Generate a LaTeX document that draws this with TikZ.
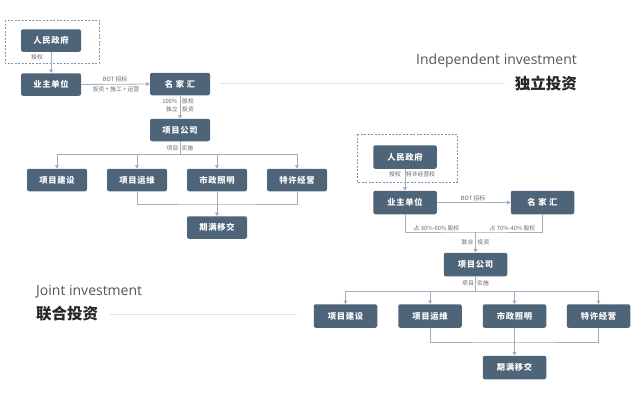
\documentclass[tikz,border=0pt]{standalone}
\usepackage{fontspec}
\setmainfont{Open Sans}
\newfontfamily\cjk{Noto Sans CJK SC}
\newfontfamily\cjksp[LetterSpace=8]{Noto Sans CJK SC}
\newfontfamily\latin{Open Sans}
\usetikzlibrary{arrows.meta}
\definecolor{boxc}{HTML}{4E6479}
\definecolor{linec}{HTML}{A3ADBF}
\definecolor{dashc}{HTML}{8592A8}
\definecolor{labc}{HTML}{666666}
\definecolor{rulec}{HTML}{E2E2E2}
\definecolor{headc}{HTML}{555555}
\tikzset{
  box/.style={fill=boxc, rounded corners=2pt, minimum width=60pt, minimum height=22.5pt,
    inner sep=0pt, text=white, font=\cjksp\bfseries\fontsize{8.3}{9}\selectfont},
  boxb/.style={box, minimum width=63.5pt, minimum height=23.5pt},
  conn/.style={draw=linec, line width=0.8pt},
  arr/.style={conn, -{Triangle[width=4pt,length=3.5pt]}},
  lab/.style={text=labc, inner sep=0pt, font=\cjk\fontsize{5.8}{6.5}\selectfont},
  frame/.style={draw=dashc, dashed, dash pattern=on 2pt off 1.5pt, line width=0.8pt},
  rule/.style={draw=rulec, line width=0.8pt},
  headen/.style={text=headc, inner sep=0pt, font=\latin\fontsize{14}{16}\selectfont},
  headcn/.style={text=black!85, inner sep=0pt, font=\cjk\bfseries\fontsize{15.5}{17}\selectfont}
}
\begin{document}
\begin{tikzpicture}[x=1pt,y=-1pt]
\useasboundingbox (0,0) rectangle (634,407);
% ---------- headings ----------
\coordinate (r1a) at (220,83); \coordinate (r1b) at (505,83);
\draw[rule] (r1a) -- (r1b);
\node[headen, anchor=east] (h1) at (577,61) {Independent investment};
\node[headcn, anchor=east] (h2) at (577,84) {独立投资};
\coordinate (r2a) at (110,314); \coordinate (r2b) at (297,314);
\draw[rule] (r2a) -- (r2b);
\node[headen, anchor=west] (h3) at (36,292) {Joint investment};
\node[headcn, anchor=west] (h4) at (36,314) {联合投资};
% ---------- left diagram ----------
\draw[frame] (5,20) rectangle (99,63);
\node[box] (g1) at (51,40.5) {人民政府};
\node[box] (o1) at (51,84.5) {业主单位};
\node[box] (m1) at (180,84) {名\ 家\ 汇};
\node[box] (p1) at (180,130) {项目公司};
\node[box] (a1) at (57,180) {项目建设};
\node[box] (b1) at (137,180) {项目运维};
\node[box] (c1) at (217,180) {市政照明};
\node[box] (d1) at (297,180) {特许经营};
\node[box] (e1) at (217,227.5) {期满移交};
\draw[arr] (g1.south) -- (o1.north);
\node[lab] (l1) at (37,57) {授权};
\draw[arr] (o1.east) -- (m1.west);
\node[lab] (l2) at (115,79.5) {BOT 招标};
\node[lab] (l3) at (116,89.5) {投资 + 施工 + 运营};
\draw[arr] (m1.south) -- (p1.north);
\node[lab, anchor=east] (l4a) at (177.5,101) {100\%};
\node[lab, anchor=west] (l4b) at (182,101) {股权};
\node[lab, anchor=east] (l5a) at (178,109) {独立};
\node[lab, anchor=west] (l5b) at (182,109) {投资};
\coordinate (j1) at (180,154);
\draw[conn] (p1.south) -- (j1);
\node[lab, anchor=east] (l6a) at (178.5,148) {项目};
\node[lab, anchor=west] (l6b) at (181.5,148) {实施};
\draw[conn] (j1 -| a1) -- (j1 -| d1);
\foreach \n in {a1,b1,c1,d1} \draw[arr] (j1 -| \n) -- (\n.north);
\coordinate (k1) at (217,204);
\draw[conn] (b1.south) |- (k1) -| (d1.south);
\draw[arr] (c1.south) -- (e1.north);
% ---------- right diagram ----------
\draw[frame] (357,134) rectangle (457,182);
\node[boxb] (g2) at (405,157) {人民政府};
\node[boxb] (o2) at (405,202.5) {业主单位};
\node[boxb] (m2) at (542.5,202.5) {名\ 家\ 汇};
\node[boxb] (p2) at (475.5,264.5) {项目公司};
\node[boxb] (a2) at (345.5,316) {项目建设};
\node[boxb] (b2) at (430,316) {项目运维};
\node[boxb] (c2) at (514.5,316) {市政照明};
\node[boxb] (d2) at (598.5,316) {特许经营};
\node[boxb] (e2) at (514.5,367.5) {期满移交};
\draw[arr] (g2.south) -- (o2.north);
\node[lab, anchor=east] (q1a) at (401,174) {授权};
\node[lab, anchor=west] (q1b) at (406,174) {特许经营权};
\draw[arr] (o2.east) -- (m2.west);
\node[lab] (q2) at (473,198) {BOT 招标};
\coordinate (k2) at (475.5,232);
\draw[conn] (o2.south) |- (k2) -| (m2.south);
\node[lab] (q3) at (436.5,228) {占 30\%-60\% 股权};
\node[lab] (q4) at (512.5,228) {占 70\%-40\% 股权};
\draw[arr] (k2) -- (p2.north);
\node[lab, anchor=east] (q5a) at (473.5,242) {联合};
\node[lab, anchor=west] (q5b) at (477.5,242) {投资};
\coordinate (j2) at (475.5,291);
\draw[conn] (p2.south) -- (j2);
\node[lab, anchor=east] (q6a) at (474,283) {项目};
\node[lab, anchor=west] (q6b) at (477,283) {实施};
\draw[conn] (j2 -| a2) -- (j2 -| d2);
\foreach \n in {a2,b2,c2,d2} \draw[arr] (j2 -| \n) -- (\n.north);
\coordinate (k3) at (514.5,342);
\draw[conn] (b2.south) |- (k3) -| (d2.south);
\draw[arr] (c2.south) -- (e2.north);
\end{tikzpicture}
\end{document}
